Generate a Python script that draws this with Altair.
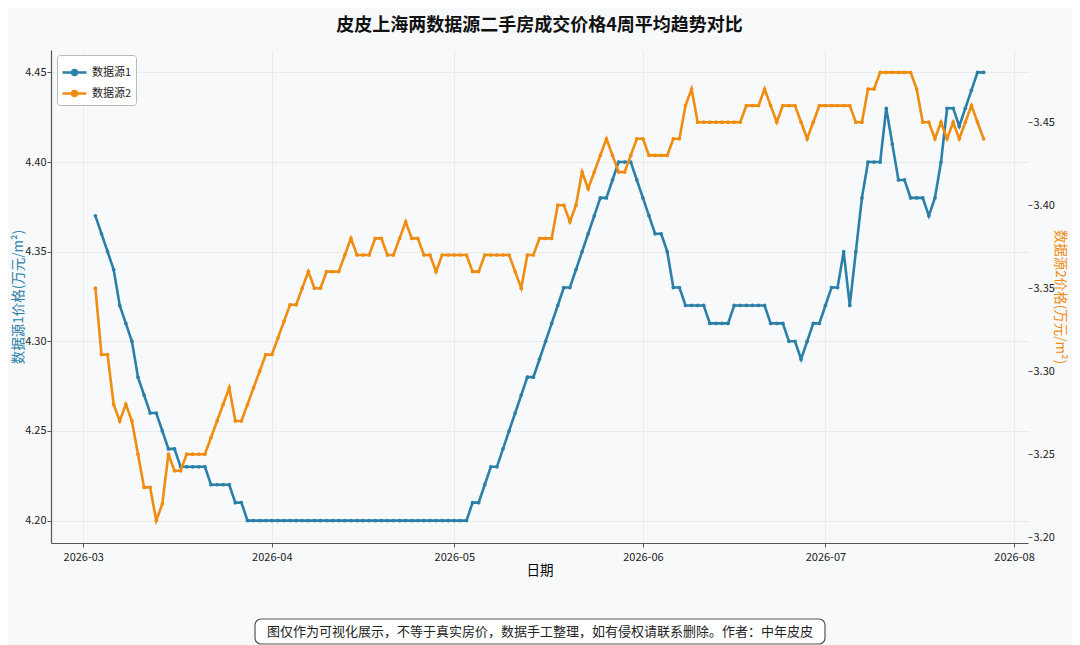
import altair as alt
import pandas as pd

title_text = "皮皮上海两数据源二手房成交价格4周平均趋势对比"
footer_text = "图仅作为可视化展示，不等于真实房价，数据手工整理，如有侵权请联系删除。作者：中年皮皮"
series_names = ["数据源1", "数据源2"]
y1_title = "数据源1价格(万元/m²)"
y2_title = "数据源2价格(万元/m²)"
x_title = "日期"

y1_ticks = [4.20, 4.25, 4.30, 4.35, 4.40, 4.45]
y2_ticks = [3.20, 3.25, 3.30, 3.35, 3.40, 3.45]

# daily values, 2026-03-03 .. 2026-07-27
s1_mar = [4.37, 4.36, 4.35, 4.34, 4.32, 4.31, 4.30, 4.28, 4.27, 4.26, 4.26, 4.25, 4.24, 4.24, 4.23,
          4.23, 4.23, 4.23, 4.23, 4.22, 4.22, 4.22, 4.22, 4.21, 4.21, 4.20, 4.20, 4.20, 4.20]
s1_apr = [4.20, 4.20, 4.20, 4.20, 4.20, 4.20, 4.20, 4.20, 4.20, 4.20, 4.20, 4.20, 4.20, 4.20, 4.20,
          4.20, 4.20, 4.20, 4.20, 4.20, 4.20, 4.20, 4.20, 4.20, 4.20, 4.20, 4.20, 4.20, 4.20, 4.20]
s1_may = [4.20, 4.20, 4.20, 4.21, 4.21, 4.22, 4.23, 4.23, 4.24, 4.25, 4.26, 4.27, 4.28, 4.28, 4.29,
          4.30, 4.31, 4.32, 4.33, 4.33, 4.34, 4.35, 4.36, 4.37, 4.38, 4.38, 4.39, 4.40, 4.40, 4.40, 4.39]
s1_jun = [4.38, 4.37, 4.36, 4.36, 4.35, 4.33, 4.33, 4.32, 4.32, 4.32, 4.32, 4.31, 4.31, 4.31, 4.31,
          4.32, 4.32, 4.32, 4.32, 4.32, 4.32, 4.31, 4.31, 4.31, 4.30, 4.30, 4.29, 4.30, 4.31, 4.31]
s1_jul = [4.32, 4.33, 4.33, 4.35, 4.32, 4.35, 4.38, 4.40, 4.40, 4.40, 4.43, 4.41, 4.39, 4.39, 4.38,
          4.38, 4.38, 4.37, 4.38, 4.40, 4.43, 4.43, 4.42, 4.43, 4.44, 4.45, 4.45]

s2_mar = [3.35, 3.31, 3.31, 3.28, 3.27, 3.28, 3.27, 3.25, 3.23, 3.23, 3.21, 3.22, 3.25, 3.24, 3.24,
          3.25, 3.25, 3.25, 3.25, 3.26, 3.27, 3.28, 3.29, 3.27, 3.27, 3.28, 3.29, 3.30, 3.31]
s2_apr = [3.31, 3.32, 3.33, 3.34, 3.34, 3.35, 3.36, 3.35, 3.35, 3.36, 3.36, 3.36, 3.37, 3.38, 3.37,
          3.37, 3.37, 3.38, 3.38, 3.37, 3.37, 3.38, 3.39, 3.38, 3.38, 3.37, 3.37, 3.36, 3.37, 3.37]
s2_may = [3.37, 3.37, 3.37, 3.36, 3.36, 3.37, 3.37, 3.37, 3.37, 3.37, 3.36, 3.35, 3.37, 3.37, 3.38,
          3.38, 3.38, 3.40, 3.40, 3.39, 3.40, 3.42, 3.41, 3.42, 3.43, 3.44, 3.43, 3.42, 3.42, 3.43, 3.44]
s2_jun = [3.44, 3.43, 3.43, 3.43, 3.43, 3.44, 3.44, 3.46, 3.47, 3.45, 3.45, 3.45, 3.45, 3.45, 3.45,
          3.45, 3.45, 3.46, 3.46, 3.46, 3.47, 3.46, 3.45, 3.46, 3.46, 3.46, 3.45, 3.44, 3.45, 3.46]
s2_jul = [3.46, 3.46, 3.46, 3.46, 3.46, 3.45, 3.45, 3.47, 3.47, 3.48, 3.48, 3.48, 3.48, 3.48, 3.48,
          3.47, 3.45, 3.45, 3.44, 3.45, 3.44, 3.45, 3.44, 3.45, 3.46, 3.45, 3.44]

s1 = s1_mar + s1_apr + s1_may + s1_jun + s1_jul
s2 = s2_mar + s2_apr + s2_may + s2_jun + s2_jul
dates = list(pd.date_range("2026-03-03", periods=len(s1), freq="D").strftime("%Y-%m-%d"))

df1 = pd.DataFrame({"date": dates, "value": s1, "series": series_names[0]})
df2 = pd.DataFrame({"date": dates, "value": s2, "series": series_names[1]})

FONT = "Noto Sans CJK SC"
BLUE = "#2B80A8"
ORANGE = "#F08C10"

color_scale = alt.Scale(domain=series_names, range=[BLUE, ORANGE])
legend = alt.Legend(
    title=None, orient="none", legendX=6, legendY=5,
    fillColor="white", strokeColor="#bbbbbb", cornerRadius=3, padding=4,
    symbolType="M-1,0H1M-0.2,0A0.2,0.2,0,1,0,0.2,0A0.2,0.2,0,1,0,-0.2,0",
    symbolSize=576, symbolStrokeWidth=2.5,
    labelFont=FONT, labelFontSize=11, labelColor="#222222", rowPadding=0,
)

x_enc = alt.X(
    "date:T",
    scale=alt.Scale(
        type="utc", nice=False,
        domain=[alt.DateTime(year=2026, month=2, date=23, hours=16, minutes=48, utc=True),
                alt.DateTime(year=2026, month=8, date=3, hours=7, minutes=12, utc=True)],
    ),
    axis=alt.Axis(title=x_title, format="%Y-%m",
                  tickCount=alt.TimeIntervalStep(interval="month", step=1),
                  labelFlush=False, labelPadding=4, titlePadding=1, titleFontSize=13.5),
)

line1 = alt.Chart(df1).mark_line(
    strokeWidth=2.6, point=alt.OverlayMarkDef(filled=True, size=14)
).encode(
    x=x_enc,
    y=alt.Y("value:Q",
            scale=alt.Scale(domain=[4.1875, 4.4625], nice=False, zero=False),
            axis=alt.Axis(orient="left", values=y1_ticks, format=".2f", title=y1_title,
                          titleColor=BLUE, labelPadding=1, titlePadding=-1, titleFontSize=13.5)),
    color=alt.Color("series:N", scale=color_scale, legend=legend),
)

line2 = alt.Chart(df2).mark_line(
    strokeWidth=2.6, point=alt.OverlayMarkDef(filled=True, size=14)
).encode(
    x=x_enc,
    y=alt.Y("value:Q",
            scale=alt.Scale(domain=[3.1965, 3.4935], nice=False, zero=False),
            axis=alt.Axis(orient="right", values=y2_ticks, format=".2f", title=y2_title,
                          titleColor=ORANGE, titlePadding=-2, titleFontSize=13.5,
                          labelPadding=1, domain=False)),
    color=alt.Color("series:N", scale=color_scale, legend=legend),
)

foot_df = pd.DataFrame({"t": [footer_text]})
foot_box = alt.Chart(foot_df).mark_rect(
    fill="white", stroke="#555555", strokeWidth=1.2, cornerRadius=6
).encode(x=alt.value(204), x2=alt.value(774), y=alt.value(569), y2=alt.value(594))
foot_txt = alt.Chart(foot_df).mark_text(
    font=FONT, fontSize=13, color="#222222", align="center", baseline="middle"
).encode(text="t:N", x=alt.value(489), y=alt.value(582))

chart = alt.layer(line1, line2, foot_box, foot_txt).resolve_scale(
    y="independent"
).properties(
    width=977, height=493,
    padding={"left": 43, "top": 42, "right": 44, "bottom": 102},
    autosize=alt.AutoSizeParams(type="none"),
    background="#f8f9fb",
    title=alt.TitleParams(text=title_text, font=FONT, fontSize=18, fontWeight="bold",
                          anchor="middle", offset=15.5, color="#111111"),
).configure_view(
    strokeWidth=0
).configure_axis(
    labelFont=FONT, labelFontSize=11, labelColor="#222222",
    titleFont=FONT, titleFontSize=13, titleFontWeight="normal",
    tickColor="#555555", tickSize=4, domainColor="#555555", domainWidth=1.2,
    gridColor="#e4e8ec", gridWidth=0.8, labelPadding=2,
)

chart.save("out.html", embed_options={"renderer": "svg", "actions": False})
